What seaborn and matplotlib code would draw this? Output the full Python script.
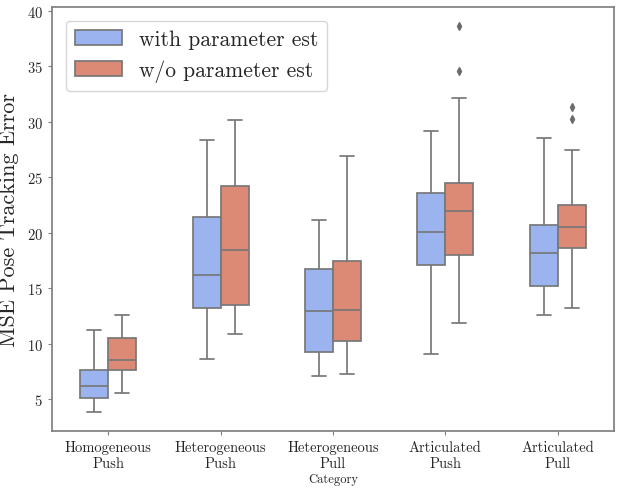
import matplotlib
matplotlib.use("Agg")
import matplotlib.pyplot as plt
import pandas as pd
import seaborn as sns

categories = [
    "Homogeneous\nPush",
    "Heterogeneous\nPush",
    "Heterogeneous\nPull",
    "Articulated\nPush",
    "Articulated\nPull",
]
methods = ["with parameter est", "w/o parameter est"]
colors = ["#9bb4f0", "#dc8a75"]

# samples per category, chosen so the quartiles/whiskers match the chart
with_est = [
    [3.86, 4.6, 5.12, 5.7, 6.2, 6.9, 7.61, 9.3, 11.21],
    [8.6, 11.0, 13.25, 14.8, 16.22, 18.9, 21.44, 24.8, 28.31],
    [7.04, 8.1, 9.2, 11.1, 12.98, 14.9, 16.7, 18.9, 21.11],
    [9.08, 13.1, 17.06, 18.6, 20.03, 21.8, 23.6, 26.4, 29.15],
    [12.62, 13.9, 15.23, 16.7, 18.2, 19.4, 20.69, 24.6, 28.52],
]
without_est = [
    [5.57, 6.6, 7.61, 8.0, 8.48, 9.5, 10.46, 11.5, 12.62],
    [10.88, 12.2, 13.52, 16.0, 18.44, 21.3, 24.2, 27.2, 30.14],
    [7.25, 8.7, 10.19, 11.6, 13.07, 15.2, 17.42, 22.1, 26.87],
    [11.84, 14.9, 16.2, 17.99, 19.9, 21.0, 21.95, 23.1, 23.8, 24.5, 32.1, 34.6, 38.6],
    [13.19, 15.9, 17.5, 18.62, 19.4, 20.0, 20.5, 21.3, 22.0, 22.49, 27.47, 30.2, 31.3],
]

rows = []
for method, series in zip(methods, [with_est, without_est]):
    for cat, values in zip(categories, series):
        for v in values:
            rows.append({"Category": cat, "Method": method, "MSE": v})
df = pd.DataFrame(rows)

sns.set_style("ticks", {"axes.edgecolor": ".5"})
plt.rcParams["font.family"] = ["cmr10", "DejaVu Serif"]
plt.rcParams["mathtext.fontset"] = "cm"
plt.rcParams["axes.formatter.use_mathtext"] = True
plt.rcParams["axes.unicode_minus"] = False

fig, ax = plt.subplots(figsize=(6.23, 4.89), dpi=100)
fig.subplots_adjust(left=0.0835, right=0.9855, bottom=0.1166, top=0.9836)

sns.boxplot(
    data=df, x="Category", y="MSE", hue="Method",
    order=categories, hue_order=methods,
    palette=colors, saturation=1, width=0.5,
    linecolor="#777777", linewidth=1.25,
    flierprops={"marker": "d", "markerfacecolor": "#6a6a6a",
                "markeredgecolor": "#6a6a6a", "markersize": 4},
    ax=ax,
)

for side in ["top", "right", "left", "bottom"]:
    ax.spines[side].set_visible(True)
    ax.spines[side].set_linewidth(1.25)

ax.set_xlabel("Category", fontsize=9, labelpad=2)
ax.set_ylabel("MSE Pose Tracking Error", fontsize=16, labelpad=6)
ax.tick_params(axis="both", labelsize=10.5, length=3, color=".5")

sns.move_legend(ax, "upper left", title=None, fontsize=15.5,
                handlelength=2.2, borderaxespad=0.65)

fig.savefig("out.png", dpi=100)
plt.close(fig)
